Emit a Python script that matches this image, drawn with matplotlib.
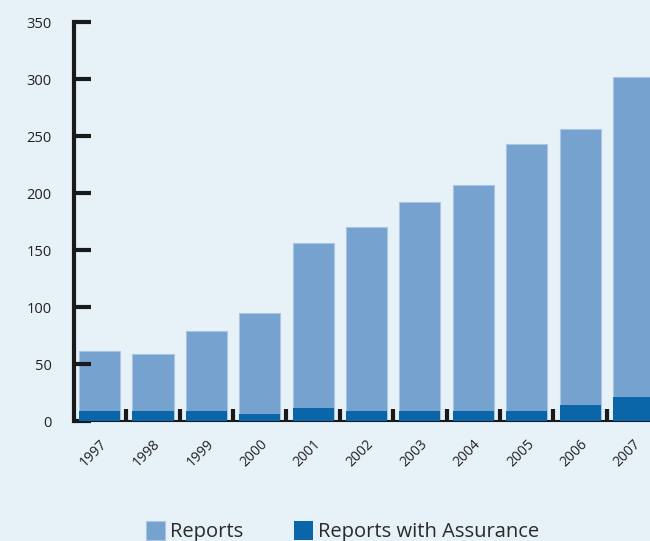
import matplotlib.pyplot as plt
import numpy as np

# Sustainability reports per year, and those with external assurance
years = ['1997', '1998', '1999', '2000', '2001', '2002', '2003', '2004', '2005', '2006', '2007']
reports = [61, 59, 79, 95, 156, 170, 192, 207, 243, 256, 302]
assured = [9, 9, 9, 6, 11, 9, 9, 9, 9, 14, 21]

bg = '#e7f1f8'
light = '#76a2cf'
dark = '#0a66a8'

plt.rcParams['font.family'] = ['Open Sans', 'DejaVu Sans']

fig = plt.figure(figsize=(6.5, 5.41), dpi=100, facecolor=bg)
ax = fig.add_axes([0.1138, 0.2218, 0.8862, 0.7375], facecolor=bg)

x = np.arange(len(years))
ax.bar(x, reports, width=0.77, color=light, edgecolor='#a9c6e3', linewidth=0.8, label='Reports', zorder=2)
ax.bar(x, assured, width=0.77, color=dark, linewidth=0, label='Reports with Assurance', zorder=3)

ax.set_xlim(-0.48, 10.31)
ax.set_ylim(0, 350)
ax.set_axisbelow(False)

for s in ['top', 'right']:
    ax.spines[s].set_visible(False)
ax.spines['left'].set_linewidth(3)
ax.spines['left'].set_color('#1a1a1a')
ax.spines['bottom'].set_linewidth(1.5)
ax.spines['bottom'].set_color('#1a1a1a')

ax.set_yticks(range(0, 351, 50))
ax.tick_params(axis='y', direction='in', length=12, width=3, color='#1a1a1a',
               labelsize=10.5, pad=16, labelcolor='#222222')

# tick marks sit in the gaps between bars, labels sit under the bars
ax.set_xticks(x[:-1] + 0.5)
ax.set_xticklabels([])
ax.tick_params(axis='x', which='major', direction='in', length=9, width=3, color='#1a1a1a')
ax.set_xticks(x, minor=True)
ax.set_xticklabels(years, minor=True, rotation=45, ha='right', rotation_mode='anchor')
ax.tick_params(axis='x', which='minor', length=0, labelsize=10, pad=11, labelcolor='#222222')

fig.legend(loc='center left', bbox_to_anchor=(0.225, 0.018), ncol=2, frameon=False,
           fontsize=14.5, handlelength=0.95, handleheight=1.1, columnspacing=2.5,
           handletextpad=0.25, labelcolor='#2a2a2a', borderpad=0, borderaxespad=0)

fig.savefig('out.png', dpi=100, facecolor=bg)
